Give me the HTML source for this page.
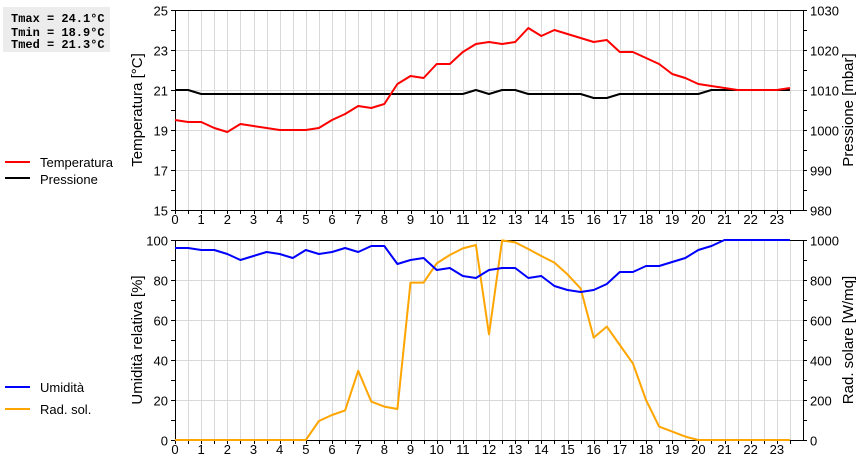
<!DOCTYPE html>
<html><head><meta charset="utf-8"><style>
body{margin:0;background:#fff;width:860px;height:460px;overflow:hidden}
svg{display:block;font-family:"Liberation Sans",sans-serif}
</style></head><body>
<svg id="c" width="860" height="460" xmlns="http://www.w3.org/2000/svg">
<rect x="3" y="7" width="107" height="45" fill="#ececec"/>
<g font-family="Liberation Mono, monospace" font-weight="bold" font-size="12">
<text x="11" y="22">Tmax = 24.1°C</text>
<text x="11" y="36">Tmin = 18.9°C</text>
<text x="11" y="48">Tmed = 21.3°C</text>
</g>
<g font-size="13">
<line x1="5" y1="162" x2="30" y2="162" stroke="#f00" stroke-width="2"/>
<text x="40" y="167">Temperatura</text>
<line x1="5" y1="178" x2="30" y2="178" stroke="#000" stroke-width="2"/>
<text x="40" y="184">Pressione</text>
</g>
<g font-size="13">
<line x1="5" y1="387" x2="30" y2="387" stroke="#00f" stroke-width="2"/>
<text x="40" y="392">Umidità</text>
<line x1="5" y1="409" x2="30" y2="409" stroke="#ffa500" stroke-width="2"/>
<text x="40" y="414">Rad. sol.</text>
</g>
<text transform="translate(142,110) rotate(-90)" text-anchor="middle" font-size="15">Temperatura [°C]</text>
<text transform="translate(853,110) rotate(-90)" text-anchor="middle" font-size="15">Pressione [mbar]</text>
<text transform="translate(142,340) rotate(-90)" text-anchor="middle" font-size="15">Umidità relativa [%]</text>
<text transform="translate(853,340) rotate(-90)" text-anchor="middle" font-size="15">Rad. solare [W/mq]</text>
</svg>
<script>
const hours=[0,0.5,1,1.5,2,2.5,3,3.5,4,4.5,5,5.5,6,6.5,7,7.5,8,8.5,9,9.5,10,10.5,11,11.5,12,12.5,13,13.5,14,14.5,15,15.5,16,16.5,17,17.5,18,18.5,19,19.5,20,20.5,21,21.5,22,22.5,23,23.5];
const temperature=[19.5,19.4,19.4,19.1,18.9,19.3,19.2,19.1,19.0,19.0,19.0,19.1,19.5,19.8,20.2,20.1,20.3,21.3,21.7,21.6,22.3,22.3,22.9,23.3,23.4,23.3,23.4,24.1,23.7,24.0,23.8,23.6,23.4,23.5,22.9,22.9,22.6,22.3,21.8,21.6,21.3,21.2,21.1,21.0,21.0,21.0,21.0,21.1];
const pressure=[1010,1010,1009,1009,1009,1009,1009,1009,1009,1009,1009,1009,1009,1009,1009,1009,1009,1009,1009,1009,1009,1009,1009,1010,1009,1010,1010,1009,1009,1009,1009,1009,1008,1008,1009,1009,1009,1009,1009,1009,1009,1010,1010,1010,1010,1010,1010,1010];
const humidity=[96,96,95,95,93,90,92,94,93,91,95,93,94,96,94,97,97,88,90,91,85,86,82,81,85,86,86,81,82,77,75,74,75,78,84,84,87,87,89,91,95,97,100,100,100,100,100,100];
const radiation=[0,0,0,0,0,0,0,0,0,0,0,95,125,148,346,192,167,155,787,787,883,925,958,975,528,998,988,955,920,887,828,758,512,567,475,383,200,67,42,17,0,0,0,0,0,0,0,0];
const tempTicks=[15,17,19,21,23,25];
const pressTicks=[980,990,1000,1010,1020,1030];
const humTicks=[0,20,40,60,80,100];
const radTicks=[0,200,400,600,800,1000];
const hourTicks=[0,1,2,3,4,5,6,7,8,9,10,11,12,13,14,15,16,17,18,19,20,21,22,23];

const NS='http://www.w3.org/2000/svg';
const svg=document.getElementById('c');
const X0=175,X1=803;
const x=h=>X0+(X1-X0)*h/24;
function mk(tag,attrs,parent){const e=document.createElementNS(NS,tag);for(const k in attrs)e.setAttribute(k,attrs[k]);(parent||svg).appendChild(e);return e;}
function lin(d0,d1,r0,r1){return v=>r0+(v-d0)*(r1-r0)/(d1-d0);}

function panel(top,bot,lScale,lTicks,rScale,rTicks,name){
  const g=mk('g',{});
  
  
  for(let i=1;i<48;i++){const xx=Math.round(x(i/2))+0.5;
    const l=mk('line',{x1:xx,x2:xx,y1:top,y2:bot,stroke:'#d9d9d9','stroke-width':1},g);
    
    }
  lTicks.forEach((t,i)=>{const yy=Math.round(lScale(t))+0.5;
    if(i>0&&i<lTicks.length-1){const l=mk('line',{x1:X0,x2:X1,y1:yy,y2:yy,stroke:'#d9d9d9'},g);
      
      }
    const tx=mk('text',{x:168,y:yy+5,'text-anchor':'end','font-size':13},g);tx.textContent=t;
    
    
    mk('line',{x1:171,x2:X0,y1:yy,y2:yy,stroke:'#000'},g);
    if(i<lTicks.length-1){const ym=Math.round(lScale((t+lTicks[i+1])/2))+0.5;mk('line',{x1:171,x2:X0,y1:ym,y2:ym,stroke:'#000'},g);mk('line',{x1:X1,x2:X1+4,y1:ym,y2:ym,stroke:'#000'},g);}
  });
  rTicks.forEach(t=>{const yy=Math.round(rScale(t))+0.5;
    const tx=mk('text',{x:810,y:yy+5,'font-size':13},g);tx.textContent=t;
    
    
    mk('line',{x1:X1,x2:X1+4,y1:yy,y2:yy,stroke:'#000'},g);});
  for(let i=0;i<48;i++){const xx=Math.round(x(i/2))+0.5;mk('line',{x1:xx,x2:xx,y1:bot,y2:bot+4,stroke:'#000'},g);}
  hourTicks.forEach(h=>{const tx=mk('text',{x:x(h),y:bot+14,'text-anchor':'middle','font-size':13},g);tx.textContent=h;
    
    });
  const r=mk('rect',{x:X0+0.5,y:top+0.5,width:X1-X0,height:bot-top,fill:'none',stroke:'#000'},g);
  
  
}
function series(vals,scale,color,name){
  const p=mk('polyline',{points:vals.map((v,i)=>x(hours[i]).toFixed(1)+','+scale(v).toFixed(1)).join(' '),fill:'none',stroke:color,'stroke-width':2,'stroke-linejoin':'round'});
  
  
}
const yT=lin(15,25,210,10), yP=lin(980,1030,210,10);
const yH=lin(0,100,440,240), yR=lin(0,1000,440,240);
panel(10,210,yT,tempTicks,yP,pressTicks,'top');
panel(240,440,yH,humTicks,yR,radTicks,'bottom');
series(pressure,yP,'#000','pressure-line');
series(temperature,yT,'#f00','temperature-line');
series(radiation,yR,'#ffa500','radiation-line');
series(humidity,yH,'#00f','humidity-line');
</script>
</body></html>
